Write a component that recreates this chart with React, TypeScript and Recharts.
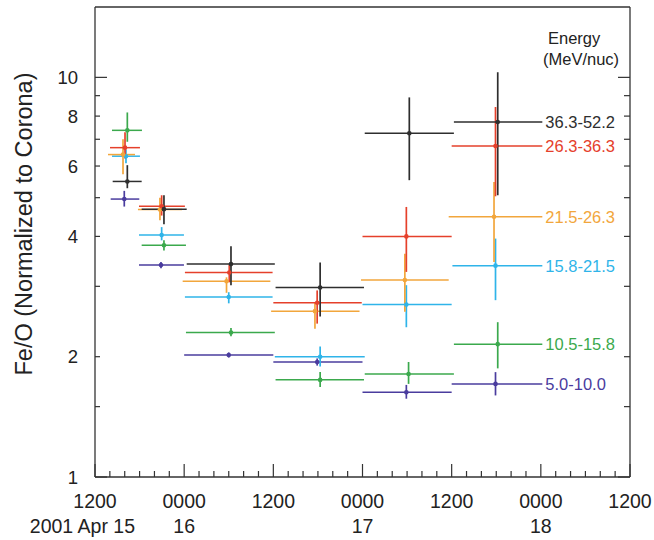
import React from 'react';
import { ComposedChart, Scatter, ErrorBar, XAxis, YAxis } from 'recharts';

// hours after 2001 Apr 15 1200
const xTicks = [0, 2, 4, 6, 8, 10, 12, 14, 16, 18, 20, 22, 24, 26, 28, 30, 32, 34, 36, 38, 40, 42, 44, 46, 48, 50, 52, 54, 56, 58, 60, 62, 64, 66, 68, 70, 72];
const clockHours = [0, 12, 24, 36, 48, 60, 72];
const clockLabels = ['1200', '0000', '1200', '0000', '1200', '0000', '1200'];
const dayHours = [0, 12, 36, 60];
const dayLabels = ['2001 Apr 15', '16', '17', '18'];

const yTicks = [1, 1.5, 2, 3, 4, 5, 6, 7, 8, 9, 10];
const yLabeled = [1, 2, 4, 6, 8, 10];

const energyBands = ['36.3-52.2', '26.3-36.3', '21.5-26.3', '15.8-21.5', '10.5-15.8', '5.0-10.0'];
const bandColors = ['#2e2e2e', '#e5402b', '#f2a63c', '#2fb4e9', '#3ba94d', '#4a3c9e'];

// 36.3-52.2
const blackStart = [2.38, 6.28, 12.34, 24.3, 36.3, 48.3];
const blackEnd = [6.28, 12.34, 24.2, 36.2, 48.3, 60.2];
const blackMid = [4.35, 9.28, 18.3, 30.3, 42.3, 54.2];
const blackVal = [5.49, 4.68, 3.41, 2.98, 7.25, 7.73];
const blackLow = [5.28, 4.29, 3.02, 2.52, 5.53, 5.07];
const blackHigh = [6.03, 5.07, 3.78, 3.44, 8.91, 10.3];

// 26.3-36.3
const redStart = [2.02, 5.92, 12.1, 24.0, 36.0, 48.0];
const redEnd = [6.05, 12.1, 23.9, 35.9, 48.0, 60.2];
const redMid = [4.04, 8.97, 18.07, 29.9, 41.9, 53.9];
const redVal = [6.67, 4.76, 3.25, 2.73, 4.0, 6.73];
const redLow = [6.27, 4.51, 3.07, 2.42, 3.26, 5.04];
const redHigh = [7.29, 5.07, 3.4, 2.93, 4.74, 8.43];

// 21.5-26.3
const orangeStart = [1.75, 5.78, 11.8, 23.7, 35.8, 47.6];
const orangeEnd = [5.38, 11.7, 23.6, 35.6, 47.6, 60.2];
const orangeMid = [3.77, 8.74, 17.7, 29.6, 41.7, 53.7];
const orangeVal = [6.41, 4.67, 3.09, 2.6, 3.11, 4.48];
const orangeLow = [5.72, 4.39, 2.89, 2.35, 2.59, 3.45];
const orangeHigh = [7.0, 5.0, 3.16, 2.74, 3.62, 5.47];

// 15.8-21.5
const blueStart = [2.29, 5.92, 12.1, 24.2, 36.0, 48.1];
const blueEnd = [6.05, 11.97, 23.9, 36.3, 48.0, 60.2];
const blueMid = [4.17, 8.97, 18.0, 30.3, 41.9, 53.9];
const blueVal = [6.35, 4.03, 2.82, 2.0, 2.7, 3.38];
const blueLow = [6.1, 3.91, 2.72, 1.89, 2.37, 2.77];
const blueHigh = [6.6, 4.22, 2.9, 2.12, 3.02, 3.95];

// 10.5-15.8
const greenStart = [2.29, 6.28, 12.24, 24.3, 36.3, 48.3];
const greenEnd = [6.32, 12.24, 24.2, 36.2, 48.3, 60.2];
const greenMid = [4.35, 9.28, 18.3, 30.3, 42.2, 54.2];
const greenVal = [7.37, 3.8, 2.3, 1.75, 1.81, 2.15];
const greenLow = [6.9, 3.69, 2.25, 1.68, 1.71, 1.87];
const greenHigh = [8.17, 3.91, 2.36, 1.83, 1.94, 2.44];

// 5.0-10.0
const purpleStart = [2.11, 5.92, 12.0, 24.0, 36.0, 48.0];
const purpleEnd = [5.96, 11.97, 24.0, 36.0, 48.0, 60.2];
const purpleMid = [3.94, 8.88, 18.0, 29.9, 41.9, 53.9];
const purpleVal = [4.96, 3.39, 2.02, 1.94, 1.63, 1.71];
const purpleLow = [4.75, 3.33, 1.99, 1.9, 1.57, 1.6];
const purpleHigh = [5.2, 3.45, 2.05, 1.98, 1.7, 1.83];

const labelHour = 60.6;

const FONT = '"Liberation Sans", Arial, Helvetica, sans-serif';
const AXIS = '#333';
const TEXT = '#222';

const buildRows = (start: number[], end: number[], mid: number[], val: number[], low: number[], high: number[]) =>
  mid.map((t, i) => ({
    t,
    v: val[i],
    ex: [t - start[i], end[i] - t],
    ey: [val[i] - low[i], high[i] - val[i]],
  }));

const bands = [
  buildRows(blackStart, blackEnd, blackMid, blackVal, blackLow, blackHigh),
  buildRows(redStart, redEnd, redMid, redVal, redLow, redHigh),
  buildRows(orangeStart, orangeEnd, orangeMid, orangeVal, orangeLow, orangeHigh),
  buildRows(blueStart, blueEnd, blueMid, blueVal, blueLow, blueHigh),
  buildRows(greenStart, greenEnd, greenMid, greenVal, greenLow, greenHigh),
  buildRows(purpleStart, purpleEnd, purpleMid, purpleVal, purpleLow, purpleHigh),
];

const BottomTick = (props: any) => {
  const { x, y, payload } = props;
  const h = payload.value;
  const ci = clockHours.indexOf(h);
  const di = dayHours.indexOf(h);
  return (
    <g>
      <line x1={x} x2={x} y1={y} y2={y - (ci >= 0 ? 13 : 6)} stroke={AXIS} strokeWidth={1.2} />
      {ci >= 0 && (
        <text x={x} y={y + 31} textAnchor="middle" fontSize={19.5} fill={TEXT} fontFamily={FONT}>
          {clockLabels[ci]}
        </text>
      )}
      {di >= 0 && (
        <text x={di === 0 ? x + 40 : x} y={y + 56} textAnchor={di === 0 ? 'end' : 'middle'} fontSize={19.5} fill={TEXT} fontFamily={FONT}>
          {dayLabels[di]}
        </text>
      )}
    </g>
  );
};

const TopTick = (props: any) => {
  const { x, y, payload } = props;
  const major = clockHours.indexOf(payload.value) >= 0;
  return <line x1={x} x2={x} y1={y} y2={y + (major ? 13 : 6)} stroke={AXIS} strokeWidth={1.2} />;
};

const LeftTick = (props: any) => {
  const { x, y, payload } = props;
  const v = payload.value;
  const long = v === 1 || v === 10;
  return (
    <g>
      <line x1={x} x2={x + (long ? 12 : 5)} y1={y} y2={y} stroke={AXIS} strokeWidth={1.2} />
      {yLabeled.indexOf(v) >= 0 && (
        <text x={x - 17} y={y} dy="0.36em" textAnchor="end" fontSize={18.5} fill={TEXT} fontFamily={FONT}>
          {v}
        </text>
      )}
    </g>
  );
};

const RightTick = (props: any) => {
  const { x, y, payload } = props;
  const v = payload.value;
  const long = v === 1 || v === 10;
  return <line x1={x} x2={x - (long ? 12 : 6)} y1={y} y2={y} stroke={AXIS} strokeWidth={1.2} />;
};

const Dot = (color: string) => (props: any) => <circle cx={props.cx} cy={props.cy} r={2.3} fill={color} />;

const BandLabel = (text: string, color: string) => (props: any) => (
  <text x={props.cx} y={props.cy} dy="0.36em" textAnchor="start" fontSize={16.5} fill={color} fontFamily={FONT}>
    {text}
  </text>
);

// drawing order: purple first, black on top
const drawOrder = [5, 4, 3, 2, 1, 0];

export default function App() {
  return (
    <div style={{ position: 'absolute', left: 0, top: 0, width: 654, height: 540, background: '#fff' }}>
      <ComposedChart width={654} height={540} margin={{ top: 0, right: 0, bottom: 0, left: 0 }}>
        <XAxis
          dataKey="t"
          type="number"
          domain={[0, 72]}
          ticks={xTicks}
          interval={0}
          allowDataOverflow
          height={63}
          tickSize={0}
          tickMargin={0}
          tickLine={false}
          axisLine={{ stroke: AXIS, strokeWidth: 1.3 }}
          tick={<BottomTick />}
        />
        <XAxis
          xAxisId="top"
          orientation="top"
          type="number"
          domain={[0, 72]}
          ticks={xTicks}
          interval={0}
          allowDataOverflow
          height={7}
          tickSize={0}
          tickMargin={0}
          tickLine={false}
          axisLine={{ stroke: AXIS, strokeWidth: 1.3 }}
          tick={<TopTick />}
        />
        <YAxis
          dataKey="v"
          type="number"
          scale="log"
          domain={[1, 15]}
          ticks={yTicks}
          interval={0}
          allowDataOverflow
          width={95}
          tickSize={0}
          tickMargin={0}
          tickLine={false}
          axisLine={{ stroke: AXIS, strokeWidth: 1.3 }}
          tick={<LeftTick />}
        />
        <YAxis
          yAxisId="right"
          orientation="right"
          type="number"
          scale="log"
          domain={[1, 15]}
          ticks={yTicks}
          interval={0}
          allowDataOverflow
          width={24}
          tickSize={0}
          tickMargin={0}
          tickLine={false}
          axisLine={{ stroke: AXIS, strokeWidth: 1.3 }}
          tick={<RightTick />}
        />
        {drawOrder.map((b) => (
          <Scatter
            key={energyBands[b]}
            data={bands[b]}
            dataKey="v"
            isAnimationActive={false}
            shape={Dot(bandColors[b])}
          >
            <ErrorBar dataKey="ex" direction="x" width={0} stroke={bandColors[b]} strokeWidth={1.5} isAnimationActive={false} />
            <ErrorBar dataKey="ey" direction="y" width={0} stroke={bandColors[b]} strokeWidth={1.7} isAnimationActive={false} />
          </Scatter>
        ))}
        {energyBands.map((name, b) => (
          <Scatter
            key={'label-' + name}
            data={[{ t: labelHour, v: bands[b][5].v }]}
            dataKey="v"
            isAnimationActive={false}
            shape={BandLabel(name, bandColors[b])}
          />
        ))}
      </ComposedChart>
      <svg width={654} height={540} style={{ position: 'absolute', left: 0, top: 0, pointerEvents: 'none' }}>
        <text
          x={0}
          y={0}
          transform="translate(32,224) rotate(-90)"
          textAnchor="middle"
          fontSize={23.5}
          fill={TEXT}
          fontFamily={FONT}
        >
          Fe/O (Normalized to Corona)
        </text>
        <text x={548} y={44} fontSize={16.5} fill={TEXT} fontFamily={FONT}>
          Energy
        </text>
        <text x={543} y={65} fontSize={16.5} fill={TEXT} fontFamily={FONT}>
          (MeV/nuc)
        </text>
      </svg>
    </div>
  );
}
